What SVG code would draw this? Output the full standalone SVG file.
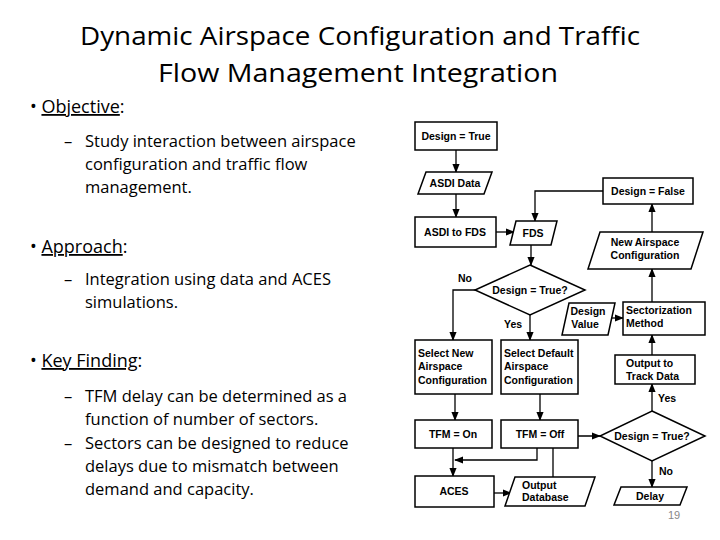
<svg xmlns="http://www.w3.org/2000/svg" width="720" height="540" viewBox="0 0 720 540">
<style>
.t{font-family:"Liberation Sans",Arial,sans-serif;fill:#000}
.b{font-family:"Open Sans","Liberation Sans",sans-serif;fill:#000}
.f{font-family:"Liberation Sans",Arial,sans-serif;font-weight:bold;font-size:10.5px;fill:#000}
.s{fill:#fff;stroke:#000;stroke-width:1.5}
.c{fill:none;stroke:#000;stroke-width:1.3}
</style>
<defs><marker id="a" viewBox="0 0 10 10" refX="9" refY="5" markerWidth="7" markerHeight="7" orient="auto"><path d="M0,1 L10,5 L0,9 z" fill="#000"/></marker></defs>
<rect width="720" height="540" fill="#fff"/>
<text class="b" x="360" y="45" font-size="26" text-anchor="middle" textLength="560" lengthAdjust="spacingAndGlyphs">Dynamic Airspace Configuration and Traffic</text>
<text class="b" x="358" y="82" font-size="26" text-anchor="middle" textLength="400" lengthAdjust="spacingAndGlyphs">Flow Management Integration</text>
<g class="b" font-size="18">
<text x="30" y="113">• <tspan text-decoration="underline">Objective</tspan>:</text>
<text x="30" y="253">• <tspan text-decoration="underline">Approach</tspan>:</text>
<text x="30" y="367">• <tspan text-decoration="underline">Key Finding</tspan>:</text>
</g>
<g class="b" font-size="16.5">
<text x="64" y="147">–</text><text x="85" y="147">Study interaction between airspace</text>
<text x="85" y="170">configuration and traffic flow</text>
<text x="85" y="193">management.</text>
<text x="64" y="285">–</text><text x="85" y="285">Integration using data and ACES</text>
<text x="85" y="308">simulations.</text>
<text x="64" y="402">–</text><text x="85" y="402">TFM delay can be determined as a</text>
<text x="85" y="425">function of number of sectors.</text>
<text x="64" y="449">–</text><text x="85" y="449">Sectors can be designed to reduce</text>
<text x="85" y="472">delays due to mismatch between</text>
<text x="85" y="495">demand and capacity.</text>
</g>
<text class="t" x="668" y="519" font-size="11" fill="#888" style="fill:#888">19</text>
<g id="connectors">
<path class="c" marker-end="url(#a)" d="M456,150 V172"/>
<path class="c" marker-end="url(#a)" d="M456,194 V217"/>
<path class="c" marker-end="url(#a)" d="M496,232 H514"/>
<path class="c" marker-end="url(#a)" d="M603,191 H535 V221"/>
<path class="c" marker-end="url(#a)" d="M531,245 V265"/>
<path class="c" marker-end="url(#a)" d="M652,232 V204"/>
<path class="c" marker-end="url(#a)" d="M652,302 V269"/>
<path class="c" marker-end="url(#a)" d="M610,318 H623"/>
<path class="c" marker-end="url(#a)" d="M475,290 H453 V340"/>
<path class="c" marker-end="url(#a)" d="M530,315 V340"/>
<path class="c" marker-end="url(#a)" d="M652,355 V335"/>
<path class="c" marker-end="url(#a)" d="M455,394 V420"/>
<path class="c" marker-end="url(#a)" d="M540,394 V420"/>
<path class="c" marker-end="url(#a)" d="M453,448 V476"/>
<path class="c" marker-end="url(#a)" d="M537,448 V460 H455"/>
<path class="c" marker-end="url(#a)" d="M494,493 H511"/>
<path class="c" marker-end="url(#a)" d="M553,477 V436 H600"/>
<path class="c" marker-end="url(#a)" d="M652,411 V384"/>
<path class="c" marker-end="url(#a)" d="M652,461 V487"/>
</g>
<g id="n1"><rect class="s" x="415" y="122" width="82" height="28"/><text class="f" x="456" y="140" text-anchor="middle">Design = True</text></g>
<g id="n2"><polygon class="s" points="426,172 492,172 484,194 418,194"/><text class="f" x="455" y="187" text-anchor="middle">ASDI Data</text></g>
<g id="n3"><rect class="s" x="415" y="217" width="81" height="30"/><text class="f" x="455" y="236" text-anchor="middle">ASDI to FDS</text></g>
<g id="n4"><polygon class="s" points="516,221 557,221 551,245 510,245"/><text class="f" x="533" y="237" text-anchor="middle">FDS</text></g>
<g id="n5"><rect class="s" x="603" y="178" width="90" height="26"/><text class="f" x="648" y="195" text-anchor="middle">Design = False</text></g>
<g id="n6"><polygon class="s" points="600,232 703,232 691,269 588,269"/><text class="f" x="645" y="246" text-anchor="middle">New Airspace</text><text class="f" x="645" y="259" text-anchor="middle">Configuration</text></g>
<g id="n7"><polygon class="s" points="530,265 585,290 530,315 475,290"/><text class="f" x="530" y="294" text-anchor="middle">Design = True?</text></g>
<text class="f" x="458" y="282">No</text>
<text class="f" x="504" y="328">Yes</text>
<g id="n8"><polygon class="s" points="569,303 615,303 608,335 562,335"/><text class="f" x="588" y="315" text-anchor="middle">Design</text><text class="f" x="585" y="328" text-anchor="middle">Value</text></g>
<g id="n9"><rect class="s" x="623" y="302" width="82" height="33"/><text class="f" x="626" y="314">Sectorization</text><text class="f" x="626" y="327">Method</text></g>
<g id="n10"><rect class="s" x="415" y="340" width="77" height="54"/><text class="f" x="418" y="357">Select New</text><text class="f" x="418" y="370">Airspace</text><text class="f" x="418" y="384">Configuration</text></g>
<g id="n11"><rect class="s" x="501" y="340" width="77" height="54"/><text class="f" x="504" y="357">Select Default</text><text class="f" x="504" y="370">Airspace</text><text class="f" x="504" y="384">Configuration</text></g>
<g id="n12"><rect class="s" x="615" y="355" width="80" height="29"/><text class="f" x="626" y="367">Output to</text><text class="f" x="626" y="380">Track Data</text></g>
<g id="n13"><rect class="s" x="415" y="420" width="77" height="28"/><text class="f" x="453" y="438" text-anchor="middle">TFM = On</text></g>
<g id="n14"><rect class="s" x="501" y="420" width="77" height="28"/><text class="f" x="540" y="438" text-anchor="middle">TFM = Off</text></g>
<g id="n15"><polygon class="s" points="652,411 705,436 652,461 600,436"/><text class="f" x="652" y="440" text-anchor="middle">Design = True?</text></g>
<text class="f" x="658" y="402">Yes</text>
<text class="f" x="659" y="475">No</text>
<g id="n16"><rect class="s" x="415" y="476" width="79" height="31"/><text class="f" x="454" y="495" text-anchor="middle">ACES</text></g>
<g id="n17"><polygon class="s" points="515,477 595,477 585,506 505,506"/><text class="f" x="522" y="489">Output</text><text class="f" x="522" y="501">Database</text></g>
<g id="n18"><polygon class="s" points="621,487 687,487 680,505 614,505"/><text class="f" x="650" y="500" text-anchor="middle">Delay</text></g>
</svg>
